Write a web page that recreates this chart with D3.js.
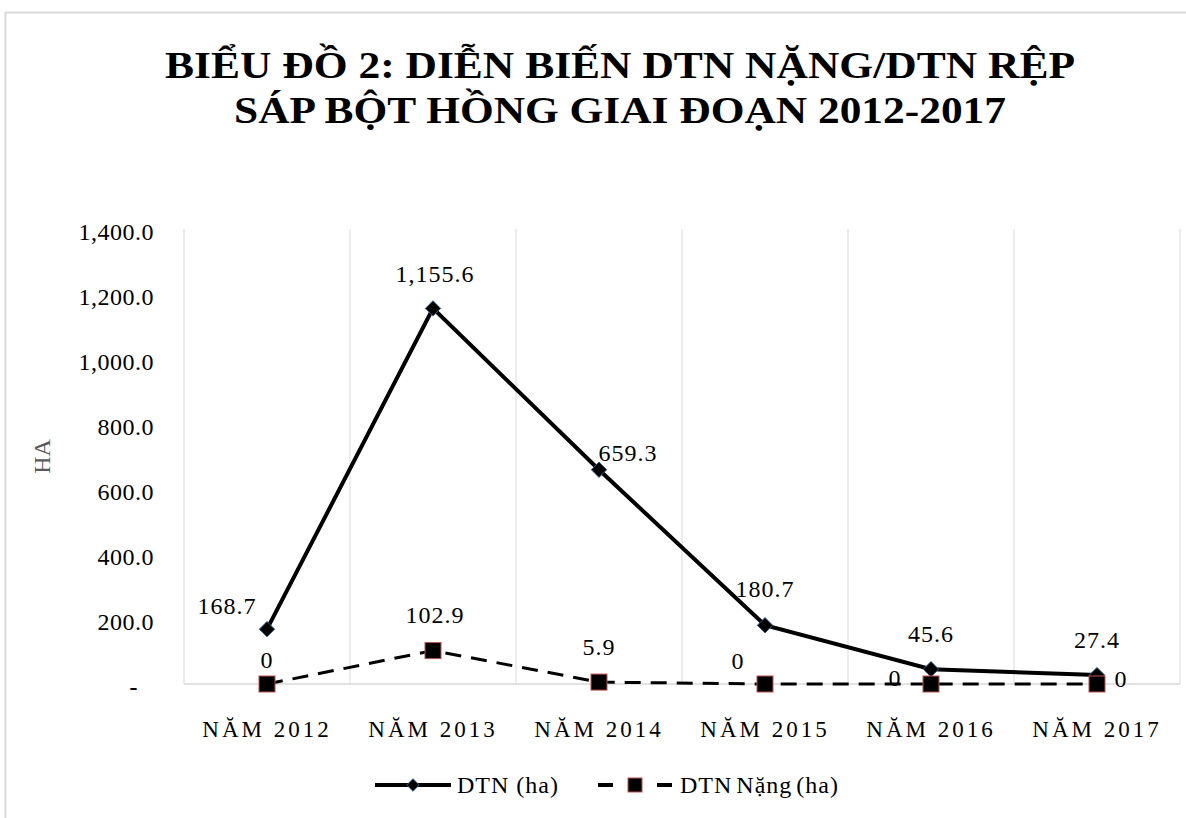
<!DOCTYPE html>
<html>
<head>
<meta charset="utf-8">
<script src="https://cdn.jsdelivr.net/npm/d3@7"></script>
<style>
  body { margin: 0; background: #fff; }
  svg text { font-family: "Liberation Serif", "Times New Roman", serif; }
</style>
</head>
<body>
<div id="chart"></div>
<script>
// data
var years = ["NĂM 2012", "NĂM 2013", "NĂM 2014", "NĂM 2015", "NĂM 2016", "NĂM 2017"];
var dtn = [168.7, 1155.6, 659.3, 180.7, 45.6, 27.4];
var dtnNang = [0, 102.9, 5.9, 0, 0, 0];
var yTicks = [0, 200, 400, 600, 800, 1000, 1200, 1400];
var titleLines = ["BIỂU ĐỒ 2: DIỄN BIẾN DTN NẶNG/DTN RỆP", "SÁP BỘT HỒNG GIAI ĐOẠN 2012-2017"];

var W = 1186, H = 818;
var margin = { top: 229, left: 184, right: 6, bottom: 134 };

var svg = d3.select("#chart").append("svg")
  .attr("width", W).attr("height", H);

// outer frame
svg.append("rect")
  .attr("x", 5.5).attr("y", 12.5).attr("width", W + 10).attr("height", H + 10)
  .attr("fill", "none").attr("stroke", "#d9d9d9").attr("stroke-width", 2);

// title
svg.selectAll(".title").data(titleLines).enter().append("text")
  .attr("class", "title")
  .attr("x", 620).attr("y", function(d, i) { return 78 + i * 45; })
  .attr("text-anchor", "middle")
  .attr("textLength", function(d, i) { return i == 0 ? 910 : 772; })
  .attr("lengthAdjust", "spacingAndGlyphs")
  .style("font-size", "38px").style("font-weight", "bold")
  .text(function(d) { return d; });

var x = d3.scaleBand().domain(years).range([margin.left, W - margin.right]);
var y = d3.scaleLinear().domain([0, 1400]).range([H - margin.bottom, margin.top]);

// vertical grid lines at category boundaries
var bounds = years.map(function(d) { return x(d); }).concat([x.range()[1]]);
svg.selectAll(".vgrid").data(bounds).enter().append("line")
  .attr("x1", function(d) { return d; }).attr("x2", function(d) { return d; })
  .attr("y1", y(1400)).attr("y2", y(0))
  .attr("stroke", "#d9d9d9").attr("stroke-width", 1);

// x axis line
svg.append("line")
  .attr("x1", margin.left).attr("x2", W - margin.right)
  .attr("y1", y(0)).attr("y2", y(0))
  .attr("stroke", "#d9d9d9").attr("stroke-width", 1.5);

// y axis labels
var fmt = d3.format(",.1f");
var yAxis = svg.append("g")
  .attr("transform", "translate(" + (margin.left) + ",0)")
  .call(d3.axisLeft(y).tickValues(yTicks).tickSize(0).tickPadding(30)
    .tickFormat(function(d) { return d == 0 ? "-" : fmt(d); }));
yAxis.select(".domain").remove();
yAxis.selectAll("text")
  .style("font-family", "'Liberation Serif', serif").style("font-size", "24px")
  .style("letter-spacing", "0.5px")
  .attr("fill", "#000").attr("dy", "0.45em");
yAxis.selectAll(".tick").filter(function(d) { return d == 0; }).select("text")
  .style("font-weight", "bold").attr("x", -46);

// y title
svg.append("text")
  .attr("transform", "translate(42," + y(700) + ") rotate(-90)")
  .attr("text-anchor", "middle").attr("dy", "0.35em")
  .attr("fill", "#595959")
  .style("font-size", "24px")
  .text("HA");

// x axis labels
svg.selectAll(".xlab").data(years).enter().append("text")
  .attr("class", "xlab")
  .attr("x", function(d) { return x(d) + x.bandwidth() / 2; })
  .attr("y", 737)
  .attr("text-anchor", "middle")
  .style("font-size", "23px").style("letter-spacing", "3px")
  .text(function(d) { return d; });

var cx = function(d, i) { return x(years[i]) + x.bandwidth() / 2; };

var line = d3.line().x(function(d, i) { return cx(d, i); }).y(function(d) { return y(d); });

// DTN Nặng dashed line
svg.append("path").datum(dtnNang)
  .attr("d", line)
  .attr("fill", "none").attr("stroke", "#000").attr("stroke-width", 3)
  .attr("stroke-dasharray", "16,10");

// DTN solid line
svg.append("path").datum(dtn)
  .attr("d", line)
  .attr("fill", "none").attr("stroke", "#000").attr("stroke-width", 4);

// DTN markers (diamonds)
var diamond = d3.symbol().type(d3.symbolDiamond2).size(150);
svg.selectAll(".dmark").data(dtn).enter().append("path")
  .attr("transform", function(d, i) { return "translate(" + cx(d, i) + "," + y(d) + ")"; })
  .attr("d", diamond)
  .attr("fill", "#000").attr("stroke", "#2e5c8a").attr("stroke-width", 1);

// DTN Nặng markers (squares)
svg.selectAll(".smark").data(dtnNang).enter().append("rect")
  .attr("x", function(d, i) { return cx(d, i) - 8; })
  .attr("y", function(d) { return y(d) - 8; })
  .attr("width", 16).attr("height", 16)
  .attr("fill", "#000").attr("stroke", "#c0504d").attr("stroke-width", 1);

// data labels
var dtnOff = [[-40, -24], [2, -35], [29, -17], [0, -37], [0, -36], [0, -35]];
var nangOff = [[0, -24], [2, -36], [0, -35], [-27, -23], [-36, -6], [24, -5]];
var labFmt = function(d) { return d == 0 ? "0" : d3.format(",.1f")(d); };

svg.selectAll(".dlab").data(dtn).enter().append("text")
  .attr("x", function(d, i) { return cx(d, i) + dtnOff[i][0]; })
  .attr("y", function(d, i) { return y(d) + dtnOff[i][1]; })
  .attr("text-anchor", "middle").attr("dy", "0.35em")
  .style("font-size", "24px").style("letter-spacing", "1px")
  .text(labFmt);

svg.selectAll(".nlab").data(dtnNang).enter().append("text")
  .attr("x", function(d, i) { return cx(d, i) + nangOff[i][0]; })
  .attr("y", function(d, i) { return y(d) + nangOff[i][1]; })
  .attr("text-anchor", "middle").attr("dy", "0.35em")
  .style("font-size", "24px").style("letter-spacing", "1px")
  .text(labFmt);

// legend
var legY = 785;
svg.append("line").attr("x1", 375).attr("x2", 451).attr("y1", legY).attr("y2", legY)
  .attr("stroke", "#000").attr("stroke-width", 4);
svg.append("path").attr("transform", "translate(413," + legY + ")")
  .attr("d", d3.symbol().type(d3.symbolDiamond2).size(100))
  .attr("fill", "#000").attr("stroke", "#2e5c8a").attr("stroke-width", 1);
svg.append("text").attr("x", 457).attr("y", legY).attr("dy", "0.35em")
  .style("font-size", "24px").style("letter-spacing", "1px").text("DTN (ha)");

svg.append("line").attr("x1", 598).attr("x2", 613).attr("y1", legY).attr("y2", legY)
  .attr("stroke", "#000").attr("stroke-width", 4);
svg.append("line").attr("x1", 657).attr("x2", 672).attr("y1", legY).attr("y2", legY)
  .attr("stroke", "#000").attr("stroke-width", 4);
svg.append("rect").attr("x", 635 - 7).attr("y", legY - 7).attr("width", 14).attr("height", 14)
  .attr("fill", "#000").attr("stroke", "#c0504d").attr("stroke-width", 1);
svg.append("text").attr("x", 680).attr("y", legY).attr("dy", "0.35em")
  .style("font-size", "24px").style("letter-spacing", "1px").style("word-spacing", "-3px")
  .text("DTN Nặng (ha)");
</script>
</body>
</html>
